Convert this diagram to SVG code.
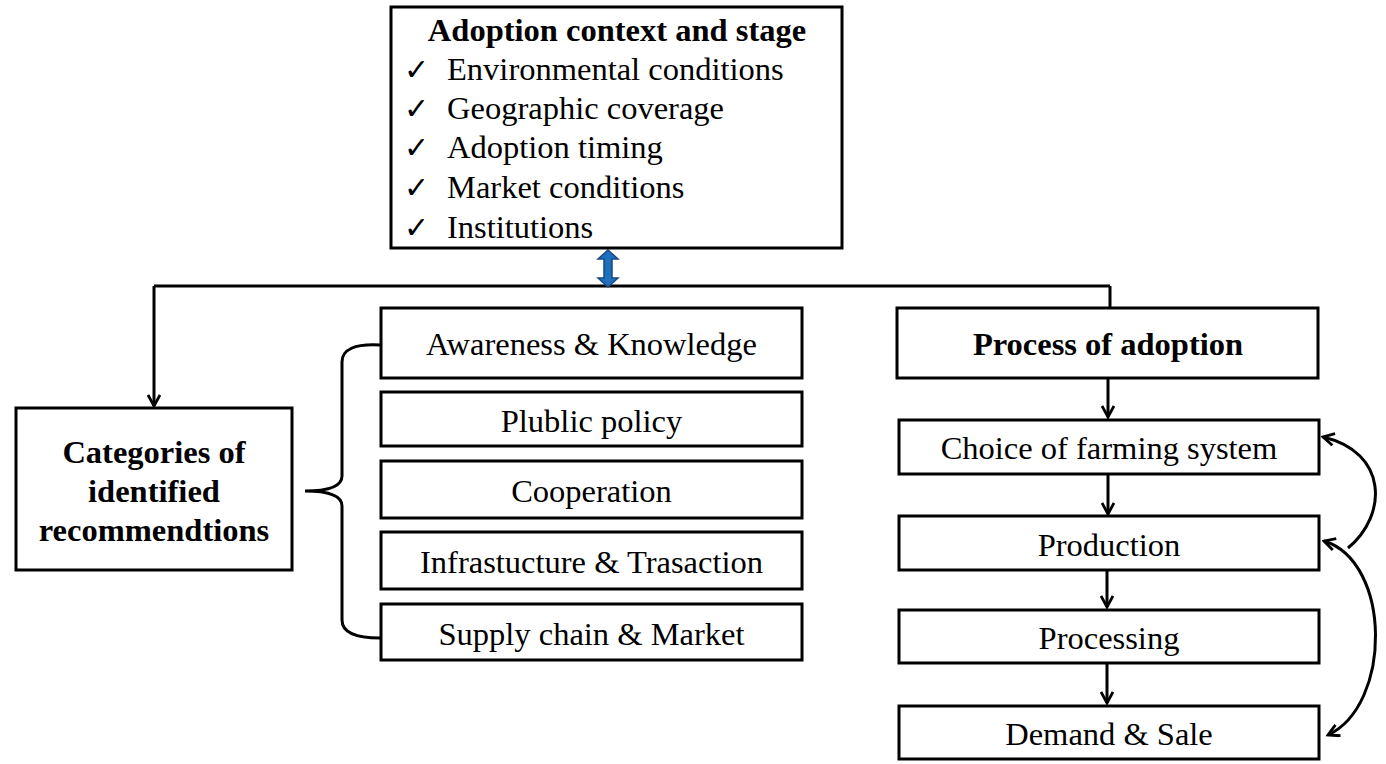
<svg xmlns="http://www.w3.org/2000/svg" width="1386" height="764" viewBox="0 0 1386 764">
<defs>
<style>
.box{fill:#fff;stroke:#000;stroke-width:3}
.t{font-family:"Liberation Serif","Times New Roman",serif;font-size:32.5px;fill:#000}
.c{text-anchor:middle}
.b{font-weight:bold}
.ck{font-family:"DejaVu Sans",sans-serif;font-size:30px;font-weight:bold;fill:#000}
.ln{fill:none;stroke:#000;stroke-width:3}
</style>
<marker id="ah" viewBox="0 0 14 14" refX="12" refY="7" markerWidth="14" markerHeight="14" markerUnits="userSpaceOnUse" orient="auto-start-reverse">
<path d="M1,1 L12,7 L1,13" fill="none" stroke="#000" stroke-width="2.8"/>
</marker>
</defs>
<rect width="1386" height="764" fill="#fff"/>
<g id="connectors">
<path class="ln" d="M154,286 L1110,286 M1110,286 L1110,308"/>
<path class="ln" d="M154,286 L154,406" marker-end="url(#ah)"/>
<polygon points="608,250 618,259 612,259 612,278 618,278 608,287 598,278 604,278 604,259 598,259" fill="#1f6fbf" stroke="#1a4a80" stroke-width="1.5"/>
<path class="ln" d="M380,345 Q342,343 342,362 L342,476 Q342,491 305,491 Q342,491 342,506 L342,620 Q342,638 380,638"/>
<path class="ln" d="M1108,378 L1108,417" marker-end="url(#ah)"/>
<path class="ln" d="M1108,474 L1108,514" marker-end="url(#ah)"/>
<path class="ln" d="M1107,570 L1107,607" marker-end="url(#ah)"/>
<path class="ln" d="M1107,663 L1107,703" marker-end="url(#ah)"/>
<path class="ln" d="M1348,548 C1388,515 1388,452 1323,437" marker-end="url(#ah)"/>
<path class="ln" d="M1324,541 C1392,562 1392,705 1328,735" marker-start="url(#ah)" marker-end="url(#ah)"/>
</g>
<g id="context">
<rect class="box" x="391" y="7" width="451" height="241"/>
<text class="t b c" x="617" y="41">Adoption context and stage</text>
<text class="ck" x="404" y="80">✓</text><text class="t" x="447" y="80">Environmental conditions</text>
<text class="ck" x="404" y="119">✓</text><text class="t" x="447" y="119">Geographic coverage</text>
<text class="ck" x="404" y="158">✓</text><text class="t" x="447" y="158">Adoption timing</text>
<text class="ck" x="404" y="198">✓</text><text class="t" x="447" y="198">Market conditions</text>
<text class="ck" x="404" y="238">✓</text><text class="t" x="447" y="238">Institutions</text>
</g>
<g id="categories">
<rect class="box" x="16" y="408" width="276" height="162"/>
<text class="t b c" x="154" y="463">Categories of</text>
<text class="t b c" x="154" y="502">identified</text>
<text class="t b c" x="154" y="541">recommendtions</text>
</g>
<g id="awareness"><rect class="box" x="381" y="308" width="421" height="70"/><text class="t c" x="591.5" y="355">Awareness &amp; Knowledge</text></g>
<g id="policy"><rect class="box" x="381" y="392" width="421" height="54"/><text class="t c" x="591.5" y="432">Plublic policy</text></g>
<g id="cooperation"><rect class="box" x="381" y="461" width="421" height="57"/><text class="t c" x="591.5" y="502">Cooperation</text></g>
<g id="infrastructure"><rect class="box" x="381" y="532" width="421" height="57"/><text class="t c" x="591.5" y="573">Infrastucture &amp; Trasaction</text></g>
<g id="supply"><rect class="box" x="381" y="604" width="421" height="56"/><text class="t c" x="591.5" y="645">Supply chain &amp; Market</text></g>
<g id="process"><rect class="box" x="897" y="308" width="421" height="70"/><text class="t b c" x="1108" y="355">Process of adoption</text></g>
<g id="choice"><rect class="box" x="899" y="420" width="420" height="54"/><text class="t c" x="1109" y="459">Choice of farming system</text></g>
<g id="production"><rect class="box" x="899" y="516" width="420" height="54"/><text class="t c" x="1109" y="556">Production</text></g>
<g id="processing"><rect class="box" x="899" y="610" width="420" height="53"/><text class="t c" x="1109" y="649">Processing</text></g>
<g id="demand"><rect class="box" x="899" y="706" width="420" height="53"/><text class="t c" x="1109" y="745">Demand &amp; Sale</text></g>
</svg>
